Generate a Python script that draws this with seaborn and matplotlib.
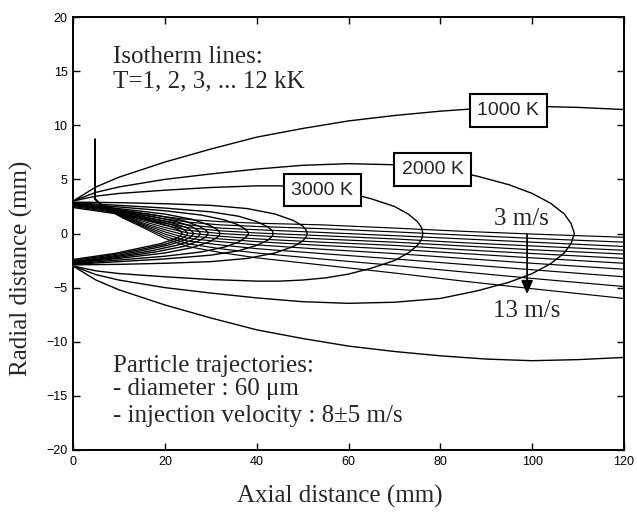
import matplotlib
matplotlib.use("Agg")
import matplotlib.pyplot as plt
import pandas as pd
import seaborn as sns

# ---------------- data ----------------
# Isotherms: upper branch (x in mm, radial distance in mm); lower branch is the mirror image
iso1000_x = [0, 5, 10, 20, 30, 40, 50, 60, 70, 80, 90, 100, 110, 120]
iso1000_y = [3.0, 4.3, 5.2, 6.6, 7.8, 8.9, 9.7, 10.4, 10.9, 11.3, 11.6, 11.75, 11.65, 11.45]
iso2000_x = [0, 5, 10, 20, 30, 40, 50, 60, 70, 80, 88, 95, 100, 104, 107, 108.5, 109.2]
iso2000_y = [3.0, 3.8, 4.3, 5.0, 5.5, 5.95, 6.3, 6.45, 6.35, 6.0, 5.3, 4.5, 3.7, 2.8, 1.8, 0.9, 0.0]
iso3000_x = [0, 5, 10, 20, 30, 40, 45, 50, 55, 60, 65, 70, 73, 75, 75.9, 76.2]
iso3000_y = [3.0, 3.45, 3.7, 4.0, 4.25, 4.4, 4.4, 4.3, 4.1, 3.75, 3.2, 2.5, 1.8, 1.1, 0.55, 0.0]
iso4000_x = [0, 10, 20, 30, 38, 44, 48, 50, 50.8, 51]
iso4000_y = [2.9, 2.85, 2.75, 2.6, 2.3, 1.8, 1.2, 0.7, 0.3, 0.0]
iso5000_x = [0, 10, 20, 30, 36, 40, 42.5, 43.4, 43.6]
iso5000_y = [2.85, 2.6, 2.35, 2.0, 1.6, 1.1, 0.6, 0.25, 0.0]
iso6000_x = [0, 10, 20, 28, 33, 36, 37.5, 38.1, 38.2]
iso6000_y = [2.8, 2.45, 2.1, 1.7, 1.25, 0.8, 0.4, 0.15, 0.0]
iso7000_x = [0, 10, 20, 26, 29.5, 31.3, 31.9, 32]
iso7000_y = [2.75, 2.3, 1.8, 1.3, 0.8, 0.4, 0.15, 0.0]
iso8000_x = [0, 10, 18, 24, 27.3, 28.8, 29.3, 29.4]
iso8000_y = [2.7, 2.2, 1.7, 1.2, 0.7, 0.35, 0.12, 0.0]
iso9000_x = [0, 10, 17, 22.5, 25.8, 27.2, 27.6, 27.7]
iso9000_y = [2.65, 2.1, 1.6, 1.1, 0.65, 0.3, 0.1, 0.0]
iso10000_x = [0, 10, 16, 21, 24.4, 25.7, 26.1, 26.2]
iso10000_y = [2.6, 2.0, 1.5, 1.05, 0.6, 0.3, 0.1, 0.0]
iso11000_x = [0, 9, 15, 20, 23.3, 24.5, 24.9, 25]
iso11000_y = [2.5, 1.95, 1.45, 1.0, 0.55, 0.25, 0.08, 0.0]
iso12000_x = [0, 9, 14, 19, 22.2, 23.3, 23.7, 23.8]
iso12000_y = [2.4, 1.85, 1.4, 0.95, 0.5, 0.25, 0.08, 0.0]

# Particle trajectories (injection velocity 3 ... 13 m/s), sampled at these axial stations
traj_x = [4.8, 4.8, 6, 8, 11, 15, 20, 25, 32, 40, 54, 70, 85, 100, 120]
traj_v3 = [8.7, 3.2, 2.7, 2.4, 2.1, 1.85, 1.55, 1.3, 1.1, 0.95, 0.8, 0.5, 0.2, -0.05, -0.35]
traj_v4 = [8.7, 3.2, 2.7, 2.35, 2.0, 1.7, 1.35, 1.05, 0.8, 0.65, 0.45, 0.15, -0.15, -0.45, -0.8]
traj_v5 = [8.7, 3.2, 2.7, 2.3, 1.95, 1.55, 1.15, 0.8, 0.5, 0.35, 0.1, -0.2, -0.5, -0.8, -1.2]
traj_v6 = [8.7, 3.2, 2.7, 2.3, 1.85, 1.4, 0.95, 0.55, 0.25, 0.05, -0.2, -0.5, -0.85, -1.15, -1.55]
traj_v7 = [8.7, 3.2, 2.7, 2.25, 1.8, 1.3, 0.75, 0.3, 0.0, -0.2, -0.5, -0.8, -1.15, -1.5, -1.9]
traj_v8 = [8.7, 3.2, 2.7, 2.2, 1.7, 1.15, 0.55, 0.05, -0.25, -0.5, -0.8, -1.1, -1.5, -1.85, -2.3]
traj_v9 = [8.7, 3.2, 2.7, 2.2, 1.65, 1.0, 0.35, -0.2, -0.5, -0.75, -1.1, -1.45, -1.85, -2.25, -2.75]
traj_v10 = [8.7, 3.2, 2.7, 2.15, 1.6, 0.9, 0.15, -0.45, -0.75, -1.05, -1.45, -1.85, -2.3, -2.75, -3.3]
traj_v11 = [8.7, 3.2, 2.7, 2.15, 1.5, 0.8, -0.05, -0.7, -1.05, -1.4, -1.85, -2.35, -2.85, -3.35, -4.0]
traj_v12 = [8.7, 3.2, 2.7, 2.1, 1.45, 0.7, -0.25, -0.95, -1.4, -1.8, -2.35, -2.95, -3.55, -4.15, -4.9]
traj_v13 = [8.7, 3.2, 2.7, 2.1, 1.4, 0.6, -0.45, -1.2, -1.75, -2.25, -2.9, -3.65, -4.4, -5.1, -6.0]

# Contour labels
label_texts = ["1000 K", "2000 K", "3000 K"]
label_x = [94.8, 78.3, 54.3]
label_y = [11.35, 5.9, 4.0]

x_ticks = [0, 20, 40, 60, 80, 100, 120]
y_ticks = [-20, -15, -10, -5, 0, 5, 10, 15, 20]

# ---------------- build long tables ----------------
rows = []
isotherms = [
    (1000, iso1000_x, iso1000_y), (2000, iso2000_x, iso2000_y), (3000, iso3000_x, iso3000_y),
    (4000, iso4000_x, iso4000_y), (5000, iso5000_x, iso5000_y), (6000, iso6000_x, iso6000_y),
    (7000, iso7000_x, iso7000_y), (8000, iso8000_x, iso8000_y), (9000, iso9000_x, iso9000_y),
    (10000, iso10000_x, iso10000_y), (11000, iso11000_x, iso11000_y), (12000, iso12000_x, iso12000_y),
]
for T, xs, ys in isotherms:
    if ys[-1] == 0.0:  # closed isotherm: go out along upper branch, back along lower one
        px = list(xs) + list(reversed(xs[:-1]))
        py = list(ys) + [-v for v in reversed(ys[:-1])]
        for i, (a, b) in enumerate(zip(px, py)):
            rows.append(dict(x=a, y=b, unit=f"T{T}", order=i))
    else:  # open past the plotted range: two separate branches
        for sgn, nm in ((1, "u"), (-1, "l")):
            for i, (a, b) in enumerate(zip(xs, ys)):
                rows.append(dict(x=a, y=sgn * b, unit=f"T{T}{nm}", order=i))
iso_df = pd.DataFrame(rows)

trajs = [traj_v3, traj_v4, traj_v5, traj_v6, traj_v7, traj_v8,
         traj_v9, traj_v10, traj_v11, traj_v12, traj_v13]
rows = []
for k, ys in enumerate(trajs):
    for i, (a, b) in enumerate(zip(traj_x, ys)):
        rows.append(dict(x=a, y=b, unit=f"v{k + 3}", order=i))
traj_df = pd.DataFrame(rows)

# ---------------- plot ----------------
sns.set_style("ticks")
plt.rcParams["font.family"] = ["Liberation Sans", "DejaVu Sans"]

fig = plt.figure(figsize=(6.37, 5.14), dpi=100)
ax = fig.add_axes([73 / 637, 1 - 450 / 514, (624 - 73) / 637, (450 - 17) / 514])

sns.lineplot(data=iso_df, x="x", y="y", units="unit", estimator=None, sort=False,
             color="black", linewidth=1.0, legend=False, ax=ax)
sns.lineplot(data=traj_df, x="x", y="y", units="unit", estimator=None, sort=False,
             color="black", linewidth=0.85, legend=False, ax=ax)

ax.set_xlim(0, 120)
ax.set_ylim(-20, 20)
ax.set_xticks(x_ticks)
ax.set_yticks(y_ticks)
ax.tick_params(direction="in", length=5, width=1.0, top=True, right=True,
               labelsize=9, pad=4, colors="black")
for sp in ax.spines.values():
    sp.set_visible(True)
    sp.set_linewidth(1.4)
    sp.set_color("black")

serif = ["Liberation Serif", "DejaVu Serif"]
ax.set_xlabel("Axial distance (mm)", fontsize=18, family=serif)
ax.set_ylabel("Radial distance (mm)", fontsize=18, family=serif)
ax.xaxis.set_label_coords(0.485, -0.108)
ax.xaxis.label.set_va("center")
ax.yaxis.set_label_coords(-0.093, 0.42)
ax.yaxis.label.set_va("center")

for t, x, y in zip(label_texts, label_x, label_y):
    ax.text(x, y, t, ha="center", va="center", fontsize=14, family=["Liberation Sans"],
            bbox=dict(boxstyle="square,pad=0.4", fc="white", ec="black", lw=1.5), zorder=6)

ax.text(8.7, 15.78, "Isotherm lines:", fontsize=18, family=serif, va="baseline")
ax.text(8.7, 13.5, "T=1, 2, 3, ... 12 kK", fontsize=18, family=serif, va="baseline")

ax.text(8.8, -12.77, "Particle trajectories:", fontsize=18, family=serif, va="baseline")
ax.text(8.8, -14.92, "- diameter : 60 \u03bcm", fontsize=18, family=serif, va="baseline")
ax.text(8.8, -17.39, "- injection velocity : 8\u00b15 m/s", fontsize=18, family=serif, va="baseline")

ax.text(97.6, 0.78, "3 m/s", fontsize=18, family=serif, ha="center", va="baseline")
ax.text(98.9, -7.7, "13 m/s", fontsize=18, family=serif, ha="center", va="baseline")
ax.annotate("", xy=(98.9, -5.6), xytext=(98.9, -0.1),
            arrowprops=dict(arrowstyle="-|>,head_length=0.8,head_width=0.35",
                            color="black", lw=1.3, shrinkA=0, shrinkB=0), zorder=7)

fig.savefig("out.png", dpi=100)
